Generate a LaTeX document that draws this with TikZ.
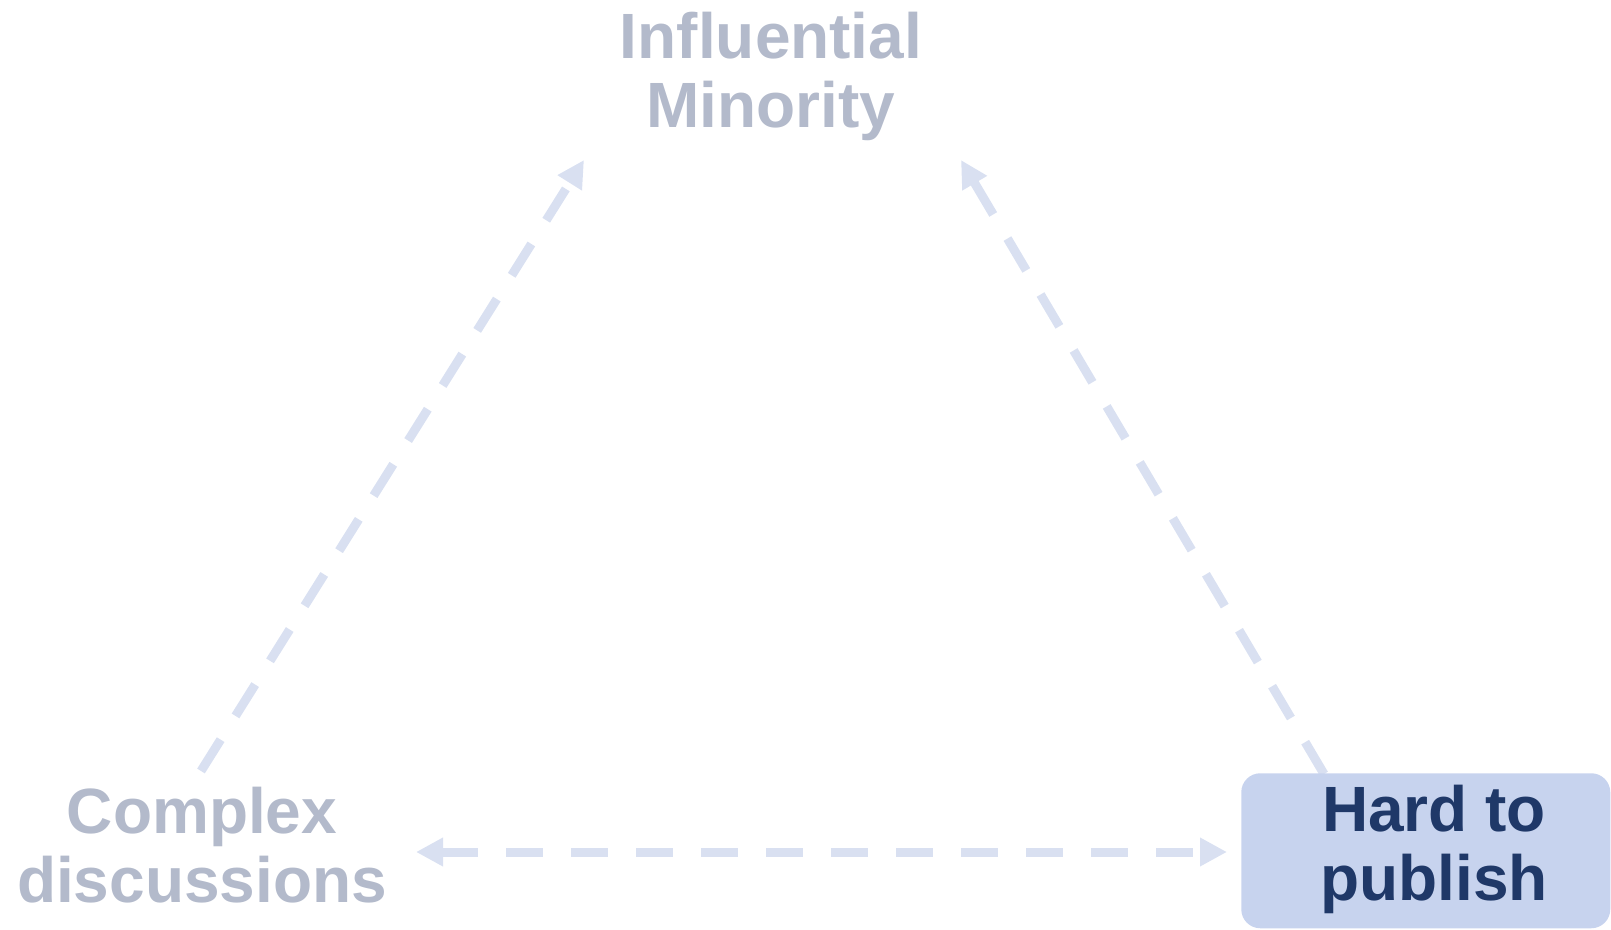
\documentclass[tikz,border=0pt]{standalone}
\usepackage{fontspec}
\setmainfont{Liberation Sans}
\usetikzlibrary{arrows.meta}
\definecolor{arrowc}{RGB}{217,224,241}
\definecolor{greyt}{RGB}{179,186,203}
\definecolor{darkt}{RGB}{31,56,104}
\definecolor{boxc}{RGB}{199,211,238}
\tikzset{
  lbl/.style={align=center, anchor=base, inner sep=0pt, font=\fontsize{48pt}{51.75pt}\selectfont\bfseries},
  conn/.style={draw=arrowc, line width=6.75pt, dash pattern=on 27.75pt off 21pt}
}
\begin{document}
\begin{tikzpicture}[x=0.75pt,y=-0.75pt]
\useasboundingbox (0,0) rectangle (1611,930);
% connector end points
\coordinate (lstart) at (201,771);
\coordinate (ltip) at (584,160);
\coordinate (rstart) at (1324,774);
\coordinate (rtip) at (961,160);
\coordinate (bl) at (416,852);
\coordinate (br) at (1227,852);
\draw[conn, -{Triangle[length=20.25pt, width=20.25pt]}] (lstart) -- (ltip);
\draw[conn, -{Triangle[length=20.25pt, width=20.25pt]}] (rstart) -- (rtip);
\draw[conn, {Triangle[length=20.25pt, width=20.25pt]}-{Triangle[length=20.25pt, width=20.25pt]}] (bl) -- (br);
% box
\node[draw=none, fill=boxc, rounded corners=14.25pt, minimum width=276.75pt, minimum height=116.25pt, anchor=north west, inner sep=0pt] (box) at (1241,773) {};
% labels (base anchor = baseline of the last line)
\node[lbl, text=greyt] (infl) at (771,128) {Influential\\Minority};
\node[lbl, text=greyt] (cplx) at (202,902) {Complex\\discussions};
\node[lbl, text=darkt] (hard) at (1434,900) {Hard to\\publish};
\end{tikzpicture}
\end{document}
